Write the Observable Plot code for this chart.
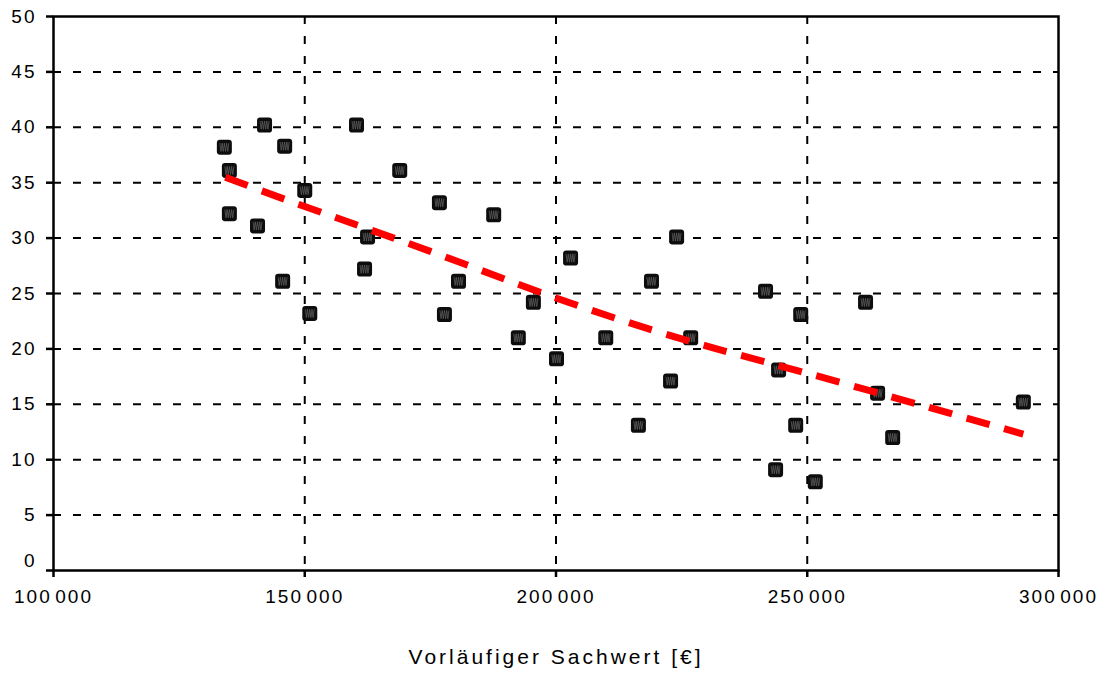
<!DOCTYPE html>
<html>
<head>
<meta charset="utf-8">
<script src="https://cdn.jsdelivr.net/npm/d3@7"></script>
<script src="https://cdn.jsdelivr.net/npm/@observablehq/plot@0.6"></script>
<style>
  html, body { margin: 0; padding: 0; background: #fff; }
</style>
</head>
<body>
<div id="chart"></div>
<script>
// Data
const sachwert = [134000, 135000, 135000, 142000, 140600, 146000, 145600, 150000, 151000, 160300,
  161900, 162500, 168900, 176800, 177800, 180600, 187600, 192500, 195500, 200100,
  202900, 209900, 216400, 219000, 222800, 224000, 226800, 241700, 243700, 244300,
  247700, 248700, 251600, 261600, 264000, 267000, 293000];
const werte = [38.2, 36.1, 32.2, 40.2, 31.1, 38.3, 26.1, 34.3, 23.2, 40.2,
  27.2, 30.1, 36.1, 33.2, 23.1, 26.1, 32.1, 21.0, 24.2, 19.1,
  28.2, 21.0, 13.1, 26.1, 17.1, 30.1, 21.0, 25.2, 9.1, 18.1,
  13.1, 23.1, 8.0, 24.2, 16.0, 12.0, 15.2];
// Trend line
const trendX = [134200, 150000, 175000, 200000, 225000, 250000, 293000];
const trendY = [35.5, 32.85, 28.8, 24.6, 20.9, 17.8, 12.3];
// Axes
const xTicks = [100000, 150000, 200000, 250000, 300000];
const yTicks = [0, 5, 10, 15, 20, 25, 30, 35, 40, 45, 50];
const xGrid = [150000, 200000, 250000];
const yGrid = [5, 10, 15, 20, 25, 30, 35, 40, 45];
const xTitle = "Vorläufiger Sachwert [€]";

const points = sachwert.map((x, i) => ({x, y: werte[i]}));
const trend = trendX.map((x, i) => ({x, y: trendY[i]}));

const roundedSquare = {
  draw(ctx, size) {
    const h = Math.sqrt(size / Math.PI), c = h * 0.42;
    ctx.moveTo(-h + c, -h);
    ctx.lineTo(h - c, -h);
    ctx.arcTo(h, -h, h, -h + c, c);
    ctx.lineTo(h, h - c);
    ctx.arcTo(h, h, h - c, h, c);
    ctx.lineTo(-h + c, h);
    ctx.arcTo(-h, h, -h, h - c, c);
    ctx.lineTo(-h, -h + c);
    ctx.arcTo(-h, -h, -h + c, -h, c);
    ctx.closePath();
  }
};
const zigzag = {
  draw(ctx, size) {
    const h = Math.sqrt(size / Math.PI);
    const n = 8, x0 = -h * 0.6, w = h * 1.2;
    ctx.moveTo(x0, -h * 0.55);
    for (let i = 1; i <= n; i++) {
      ctx.lineTo(x0 + (w * i) / n, (i % 2 ? 1 : -1) * h * 0.55);
    }
  }
};

const fmtX = d => {
  const s = String(d);
  return s.slice(0, s.length - 3) + "\u200A" + s.slice(-3);
};

const chart = Plot.plot({
  width: 1116,
  height: 680,
  marginTop: 16,
  marginLeft: 53,
  marginRight: 58,
  marginBottom: 110,
  style: {fontFamily: "'Liberation Sans', Arial, sans-serif", fontSize: "19px", color: "#000", background: "#fff"},
  x: {domain: [100000, 300000]},
  y: {domain: [0, 50]},
  marks: [
    Plot.gridY(yGrid, {stroke: "#000", strokeOpacity: 1, strokeWidth: 2, strokeDasharray: "8,12"}),
    Plot.gridX(xGrid, {stroke: "#000", strokeOpacity: 1, strokeWidth: 2, strokeDasharray: "8,12"}),
    Plot.frame({stroke: "#000", strokeWidth: 2.5}),
    Plot.axisY(yTicks, {tickSize: 7, tickPadding: 10, strokeWidth: 2.5, label: null,
      tickFormat: d => d === 0 ? "" : String(d)}),
    Plot.axisY([0], {tickSize: 0, tickPadding: 17, dy: -10, label: null, tickFormat: d => String(d)}),
    Plot.axisX(xTicks, {tickSize: 7, tickPadding: 12, strokeWidth: 2.5, label: null, tickFormat: fmtX}),
    Plot.dot(points, {x: "x", y: "y", r: 7.5, symbol: roundedSquare, fill: "#0d0d0d", stroke: "none"}),
    Plot.dot(points, {x: "x", y: "y", r: 7.5, symbol: zigzag, fill: "none", stroke: "#5a5a5a", strokeWidth: 0.8}),
    Plot.line(trend, {x: "x", y: "y", stroke: "#ff0000", strokeWidth: 7, strokeDasharray: "24,15", curve: "natural", strokeLinecap: "butt"}),
    Plot.text([xTitle], {frameAnchor: "bottom", dy: 93, fontSize: 21, fill: "#000"})
  ]
});

document.getElementById("chart").appendChild(chart);
const svg = d3.select(chart);
svg.selectAll("text").attr("letter-spacing", "2px");
svg.selectAll("text").filter(function() { return this.textContent === xTitle; })
  .attr("letter-spacing", "3px");
</script>
</body>
</html>
